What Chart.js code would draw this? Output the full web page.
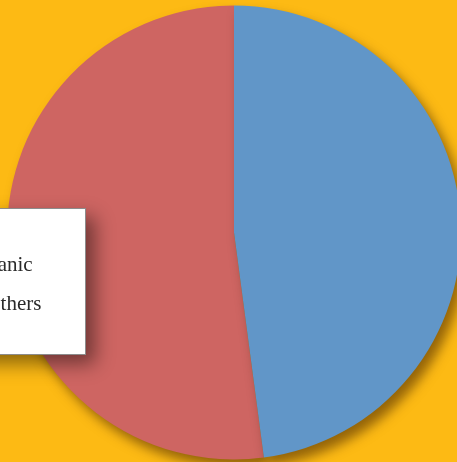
<!DOCTYPE html>
<html>
<head>
<meta charset="utf-8">
<script src="https://cdn.jsdelivr.net/npm/chart.js@4/dist/chart.umd.min.js"></script>
<style>
  html, body { margin: 0; padding: 0; }
  body { width: 457px; height: 462px; overflow: hidden; background: #FDBA14; position: relative; }
  #wrap { position: absolute; left: 0; top: 0; width: 468px; height: 465px; }
  #legend {
    position: absolute; left: -100px; top: 208px; width: 184px; height: 145px;
    background: #fff; border: 1px solid #8c8c8c;
    box-shadow: 9px 9px 18px rgba(0,0,0,0.45);
    font-family: "Liberation Serif", serif; font-size: 21px; color: #2a2a2a;
  }
  #legend .item { position: absolute; left: 57px; white-space: nowrap; }
  #legend .sw { position: absolute; left: -30px; top: 5px; width: 16px; height: 16px; }
</style>
</head>
<body>
<div id="wrap"><canvas id="pie"></canvas></div>
<div id="legend"></div>
<script>
const COLORS = {
    red: 'rgb(206, 101, 98)',
    blue: 'rgb(97, 150, 200)'
};

let labels = ['Hispanic', 'All others'];
let values = [52.1, 47.9];
let colors = [COLORS.red, COLORS.blue];

// shadow under the pie
const pieShadow = {
    id: 'pieShadow',
    beforeDatasetsDraw(chart) {
        const ctx = chart.ctx;
        ctx.save();
        ctx.shadowColor = 'rgba(60, 30, 0, 0.55)';
        ctx.shadowBlur = 12;
        ctx.shadowOffsetX = 6;
        ctx.shadowOffsetY = 8;
    },
    afterDatasetsDraw(chart) {
        chart.ctx.restore();
    }
};

let ctxPie = document.getElementById('pie').getContext('2d');

let pieChart = new Chart(ctxPie, {
    type: 'pie',
    data: {
        labels: labels,
        datasets: [{
            data: values,
            backgroundColor: colors,
            borderWidth: 0,
            hoverOffset: 0
        }]
    },
    options: {
        responsive: true,
        maintainAspectRatio: false,
        animation: false,
        events: [],
        radius: 227,
        // red goes counter-clockwise from the top, blue clockwise
        rotation: -values[0] / 100 * 360,
        layout: { padding: 0 },
        plugins: {
            legend: { display: false },
            tooltip: { enabled: false }
        }
    },
    plugins: [pieShadow]
});

// html legend
let legendBox = document.getElementById('legend');
labels.forEach(function (lab, i) {
    let item = document.createElement('div');
    item.className = 'item';
    item.style.top = (43 + i * 39) + 'px';
    let sw = document.createElement('span');
    sw.className = 'sw';
    sw.style.background = colors[i];
    item.appendChild(sw);
    item.appendChild(document.createTextNode(lab));
    legendBox.appendChild(item);
});
</script>
</body>
</html>
